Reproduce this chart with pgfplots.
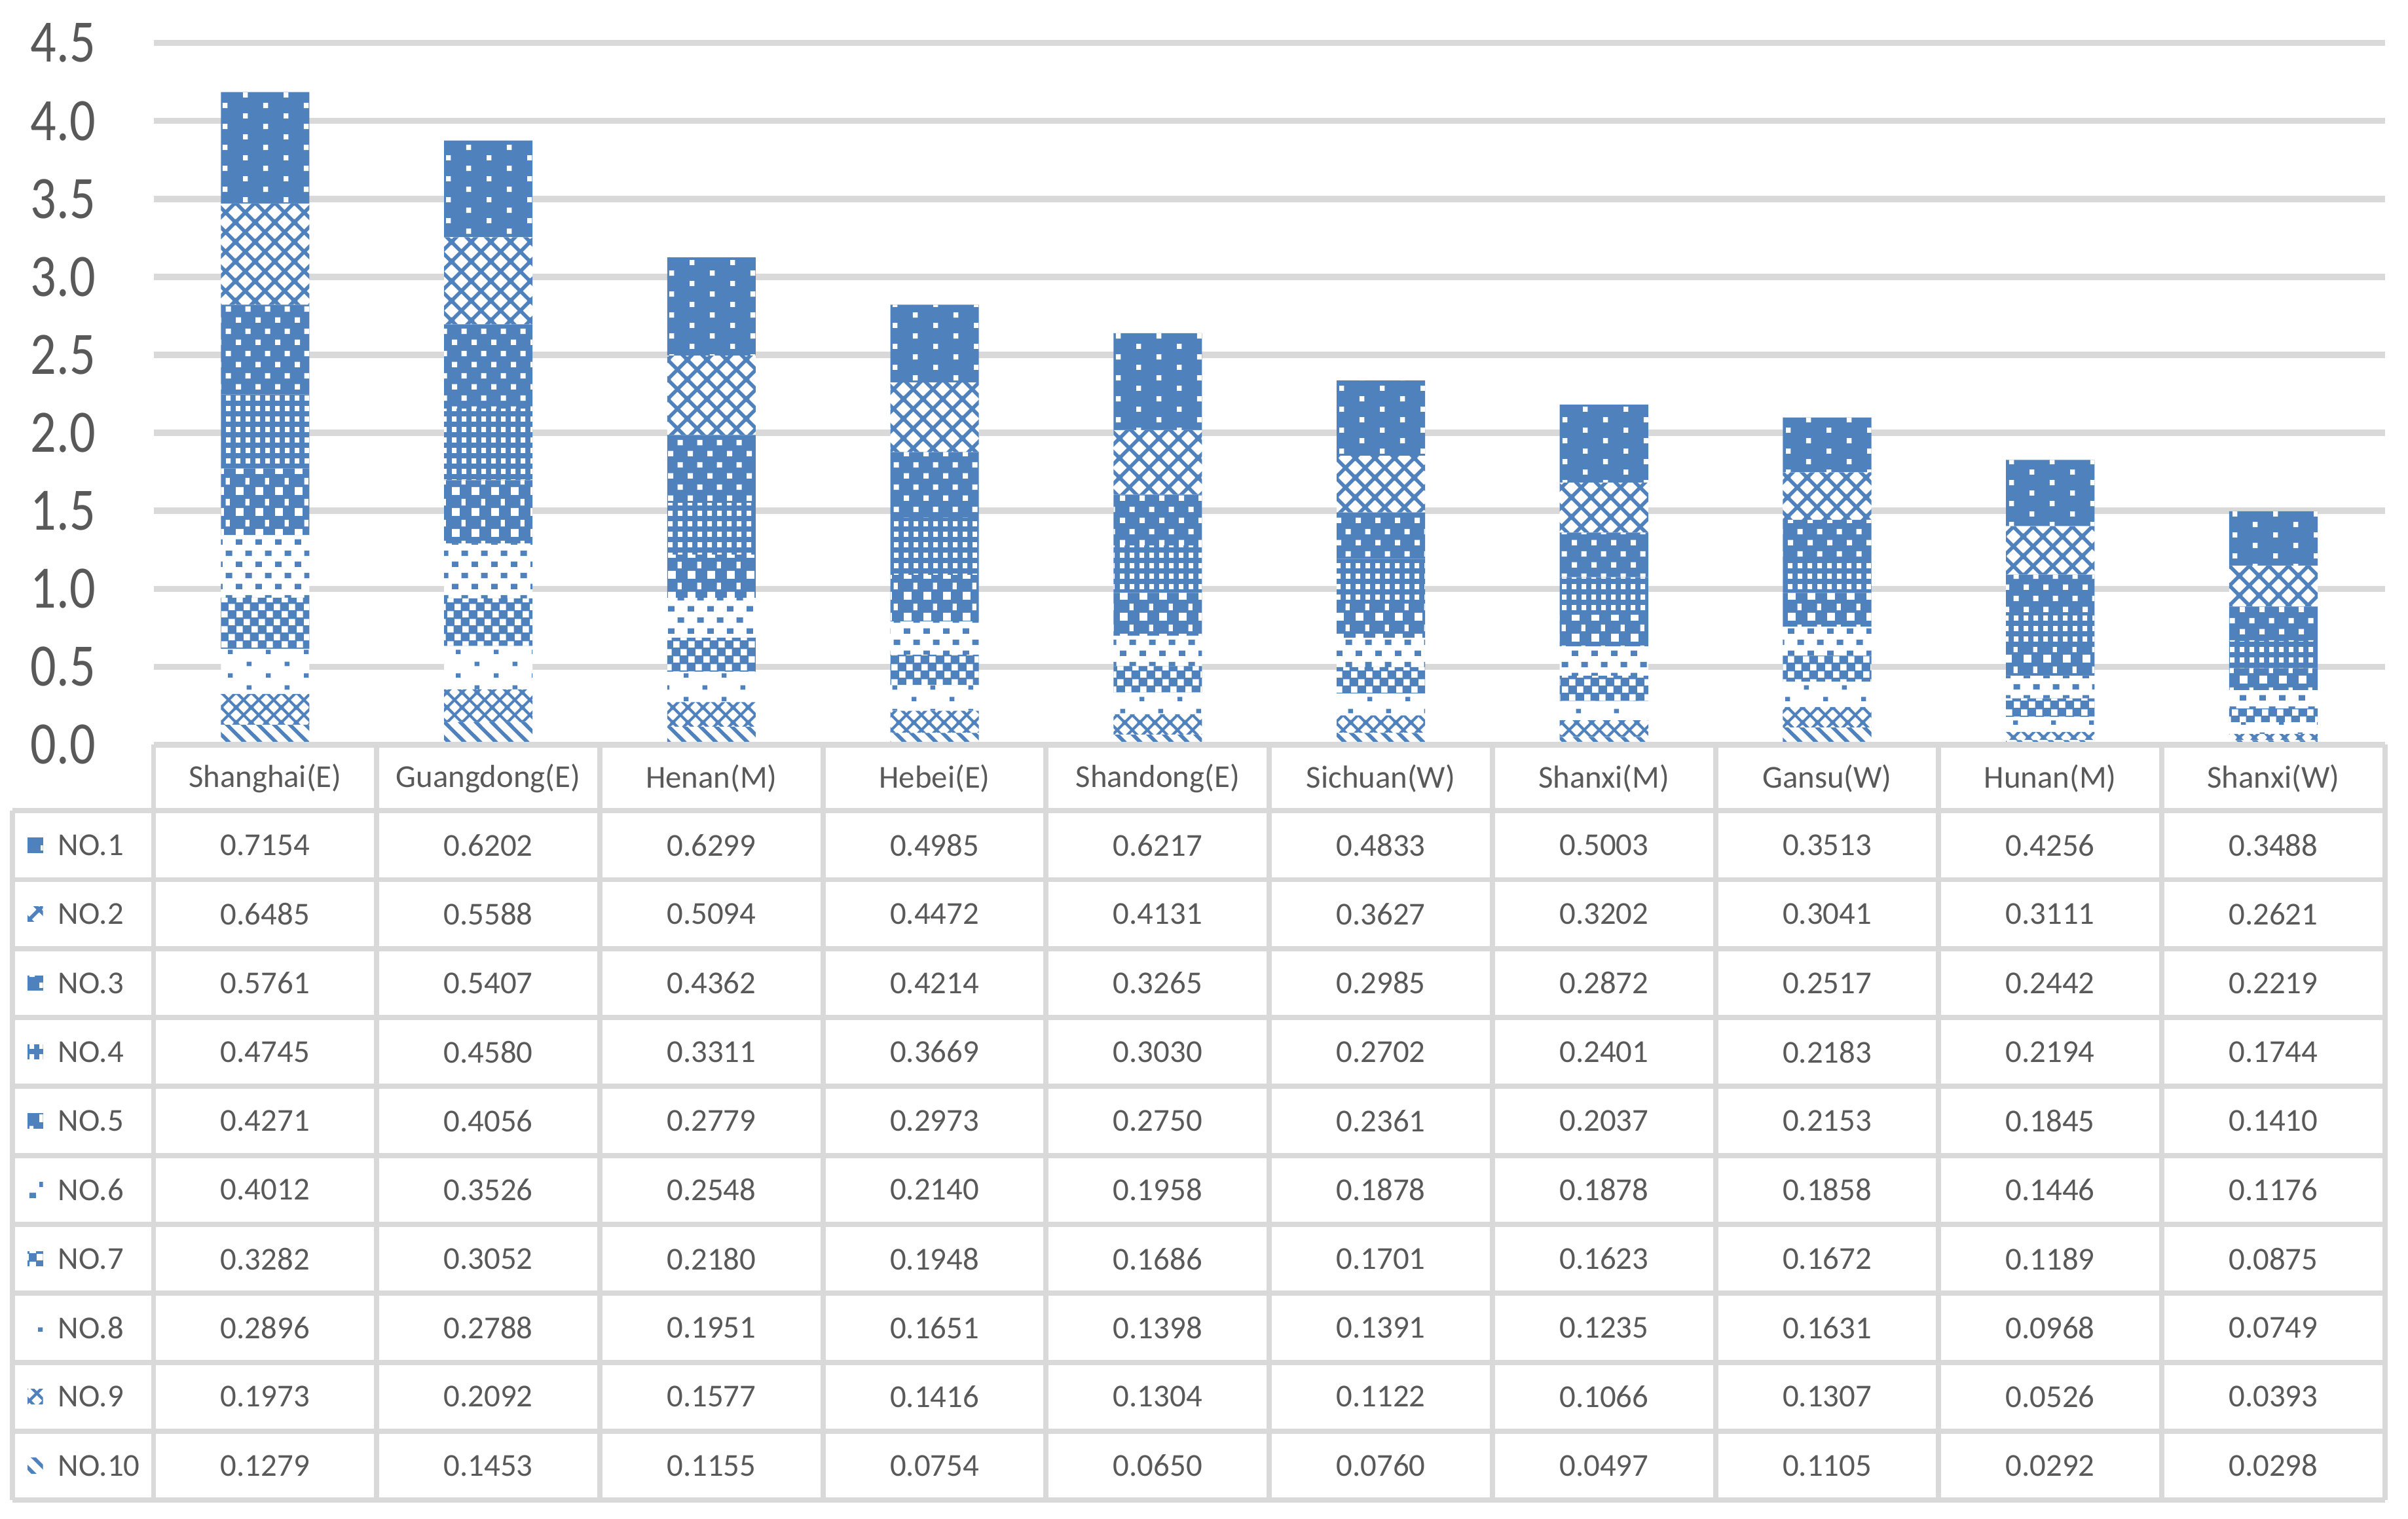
\documentclass[border=0pt]{standalone}
\usepackage{fontspec}
\setmainfont{Carlito}
\newfontfamily\tickfont[FakeStretch=0.85]{Carlito}
\usepackage{pgfplots}
\pgfplotsset{compat=1.18}
\usepackage{pgfplotstable}
\usetikzlibrary{patterns.meta}
\definecolor{xblue}{HTML}{4F81BD}
\definecolor{gridc}{HTML}{D9D9D9}
\definecolor{tcol}{HTML}{595959}
\newcommand\tabfont{\fontsize{5.2}{6}\selectfont}

% patterns
\tikzdeclarepattern{name=pA, type=uncolored, bottom left={(0pt,0pt)}, top right={(6.6pt,3.4pt)}, tile size={(6.6pt,3.4pt)},
  code={\fill (0pt,0pt) rectangle (0.8pt,0.85pt); \fill (3.3pt,1.7pt) rectangle (4.1pt,2.55pt);}}
\tikzdeclarepattern{name=pB, type=uncolored, bottom left={(0pt,0pt)}, top right={(3.2pt,3.2pt)}, tile size={(3.2pt,3.2pt)},
  code={\draw[line width=0.6pt, x=3.2pt, y=3.2pt] (-1,-1)--(2,2) (-1,0)--(1,2) (0,-1)--(2,1) (-1,1)--(1,-1) (-1,2)--(2,-1) (-1,3)--(3,-1);}}
\tikzdeclarepattern{name=pC, type=uncolored, bottom left={(0pt,0pt)}, top right={(3.2pt,3.6pt)}, tile size={(3.2pt,3.6pt)},
  code={\fill (0pt,0pt) rectangle (0.9pt,0.9pt); \fill (1.6pt,1.8pt) rectangle (2.5pt,2.7pt);}}
\tikzdeclarepattern{name=pD, type=uncolored, bottom left={(0pt,0pt)}, top right={(1.6pt,1.7pt)}, tile size={(1.6pt,1.7pt)},
  code={\fill (0pt,0pt) rectangle (0.8pt,0.85pt);}}
\tikzdeclarepattern{name=pE, type=uncolored, bottom left={(0pt,0pt)}, top right={(3.2pt,3.4pt)}, tile size={(3.2pt,3.4pt)},
  code={\fill (0pt,0pt) rectangle (1.3pt,1.3pt); \fill (1.6pt,1.7pt) rectangle (2.3pt,2.8pt);}}
\tikzdeclarepattern{name=pF, type=uncolored, bottom left={(0pt,0pt)}, top right={(3.2pt,3.6pt)}, tile size={(3.2pt,3.6pt)},
  code={\fill (0pt,0pt) rectangle (1.1pt,0.9pt); \fill (1.6pt,1.8pt) rectangle (2.7pt,2.7pt);}}
\tikzdeclarepattern{name=pG, type=uncolored, bottom left={(0pt,0pt)}, top right={(2.4pt,2.4pt)}, tile size={(2.4pt,2.4pt)},
  code={\fill (0pt,0pt) rectangle (1.05pt,1.05pt); \fill (1.2pt,1.2pt) rectangle (2.25pt,2.25pt);}}
\tikzdeclarepattern{name=pH, type=uncolored, bottom left={(0pt,0pt)}, top right={(6.2pt,3.8pt)}, tile size={(6.2pt,3.8pt)},
  code={\fill (0pt,0pt) rectangle (0.8pt,0.7pt); \fill (3.1pt,1.9pt) rectangle (3.9pt,2.6pt);}}
\tikzdeclarepattern{name=pI, type=uncolored, bottom left={(0pt,0pt)}, top right={(2.4pt,2.4pt)}, tile size={(2.4pt,2.4pt)},
  code={\draw[line width=0.45pt, x=2.4pt, y=2.4pt] (-1,-1)--(2,2) (-1,0)--(1,2) (0,-1)--(2,1) (-1,1)--(1,-1) (-1,2)--(2,-1) (-1,3)--(3,-1);}}
\tikzdeclarepattern{name=pJ, type=uncolored, bottom left={(0pt,0pt)}, top right={(2.6pt,2.6pt)}, tile size={(2.6pt,2.6pt)},
  code={\draw[line width=0.6pt, x=2.6pt, y=2.6pt] (-1,1)--(1,-1) (-1,2)--(2,-1) (-1,3)--(3,-1);}}

\tikzset{
 sA/.style={fill=xblue, draw=none, postaction={pattern=pA, pattern color=white}},
 sB/.style={fill=white, draw=none, postaction={pattern=pB, pattern color=xblue}},
 sC/.style={fill=xblue, draw=none, postaction={pattern=pC, pattern color=white}},
 sD/.style={fill=xblue, draw=none, postaction={pattern=pD, pattern color=white}},
 sE/.style={fill=xblue, draw=none, postaction={pattern=pE, pattern color=white}},
 sF/.style={fill=white, draw=none, postaction={pattern=pF, pattern color=xblue}},
 sG/.style={fill=xblue, draw=none, postaction={pattern=pG, pattern color=white}},
 sH/.style={fill=white, draw=none, postaction={pattern=pH, pattern color=xblue}},
 sI/.style={fill=white, draw=none, postaction={pattern=pI, pattern color=xblue}},
 sJ/.style={fill=white, draw=none, postaction={pattern=pJ, pattern color=xblue}},
}

\pgfplotstableread{
idx cat n1 n2 n3 n4 n5 n6 n7 n8 n9 n10
0 Shanghai(E)  0.7154 0.6485 0.5761 0.4745 0.4271 0.4012 0.3282 0.2896 0.1973 0.1279
1 Guangdong(E) 0.6202 0.5588 0.5407 0.4580 0.4056 0.3526 0.3052 0.2788 0.2092 0.1453
2 Henan(M)     0.6299 0.5094 0.4362 0.3311 0.2779 0.2548 0.2180 0.1951 0.1577 0.1155
3 Hebei(E)     0.4985 0.4472 0.4214 0.3669 0.2973 0.2140 0.1948 0.1651 0.1416 0.0754
4 Shandong(E)  0.6217 0.4131 0.3265 0.3030 0.2750 0.1958 0.1686 0.1398 0.1304 0.0650
5 Sichuan(W)   0.4833 0.3627 0.2985 0.2702 0.2361 0.1878 0.1701 0.1391 0.1122 0.0760
6 Shanxi(M)    0.5003 0.3202 0.2872 0.2401 0.2037 0.1878 0.1623 0.1235 0.1066 0.0497
7 Gansu(W)     0.3513 0.3041 0.2517 0.2183 0.2153 0.1858 0.1672 0.1631 0.1307 0.1105
8 Hunan(M)     0.4256 0.3111 0.2442 0.2194 0.1845 0.1446 0.1189 0.0968 0.0526 0.0292
9 Shanxi(W)    0.3488 0.2621 0.2219 0.1744 0.1410 0.1176 0.0875 0.0749 0.0393 0.0298
}\datatab

\begin{document}
\begin{tikzpicture}
\begin{axis}[
  scale only axis, width=363.25pt, height=114.25pt,
  xmin=-0.5, xmax=9.5, ymin=0, ymax=4.5,
  ybar stacked, bar width=14.4pt,
  ytick={0,0.5,1,1.5,2,2.5,3,3.5,4,4.5}, xtick=\empty,
  ymajorgrids, major grid style={draw=gridc, line width=1pt},
  axis line style={draw=none}, major tick length=0pt,
  yticklabel style={font=\tickfont\fontsize{9.8}{10}\selectfont, text=tcol, inner sep=0pt, xshift=-9.25pt,
    /pgf/number format/fixed, /pgf/number format/fixed zerofill, /pgf/number format/precision=1,
    /pgf/number format/assume math mode=true},
  clip=false,
]
\addplot[sJ] table[x=idx,y=n10]{\datatab};
\addplot[sI] table[x=idx,y=n9]{\datatab};
\addplot[sH] table[x=idx,y=n8]{\datatab};
\addplot[sG] table[x=idx,y=n7]{\datatab};
\addplot[sF] table[x=idx,y=n6]{\datatab};
\addplot[sE] table[x=idx,y=n5]{\datatab};
\addplot[sD] table[x=idx,y=n4]{\datatab};
\addplot[sC] table[x=idx,y=n3]{\datatab};
\addplot[sB] table[x=idx,y=n2]{\datatab};
\addplot[sA] table[x=idx,y=n1]{\datatab};
\coordinate (O) at (axis cs:-0.5,0);
\end{axis}
\begin{scope}[shift={(O)}, xshift=-25pt, yshift=121.25pt, x=0.25pt, y=-0.25pt]
  % table grid
  \draw[gridc, line width=0.85pt] (100,485) -- (1553,485);
  \foreach \j in {0,...,10} { \draw[gridc, line width=0.85pt] (8,{528+44.9*\j}) -- (1553,{528+44.9*\j}); }
  \draw[gridc, line width=0.85pt] (8,528) -- (8,977);
  \foreach \c in {0,...,10} { \draw[gridc, line width=0.85pt] ({100+145.3*\c},485) -- ({100+145.3*\c},977); }
  % header
  \foreach \r in {0,...,9} {
    \edef\tmp{\noexpand\pgfplotstablegetelem{\r}{cat}\noexpand\of\noexpand\datatab}\tmp
    \node[font=\tabfont, text=tcol, inner sep=0pt] at ({100+145.3*(\r+0.5)},507) {\pgfplotsretval};
  }
  % rows
  \foreach \k/\s in {1/sA,2/sB,3/sC,4/sD,5/sE,6/sF,7/sG,8/sH,9/sI,10/sJ} {
    \path[\s] (18,{528+44.9*(\k-0.5)-5}) rectangle (28,{528+44.9*(\k-0.5)+5});
    \node[font=\tabfont, text=tcol, anchor=west, inner sep=0pt] at (37,{528+44.9*(\k-0.5)}) {NO.\k};
    \foreach \r in {0,...,9} {
      \edef\tmp{\noexpand\pgfplotstablegetelem{\r}{n\k}\noexpand\of\noexpand\datatab}\tmp
      \node[font=\tabfont, text=tcol, inner sep=0pt] at ({100+145.3*(\r+0.5)},{528+44.9*(\k-0.5)}) {\pgfplotsretval};
    }
  }
  \pgfresetboundingbox
  \path (0,0) rectangle (1568,989);
\end{scope}
\end{tikzpicture}
\end{document}
